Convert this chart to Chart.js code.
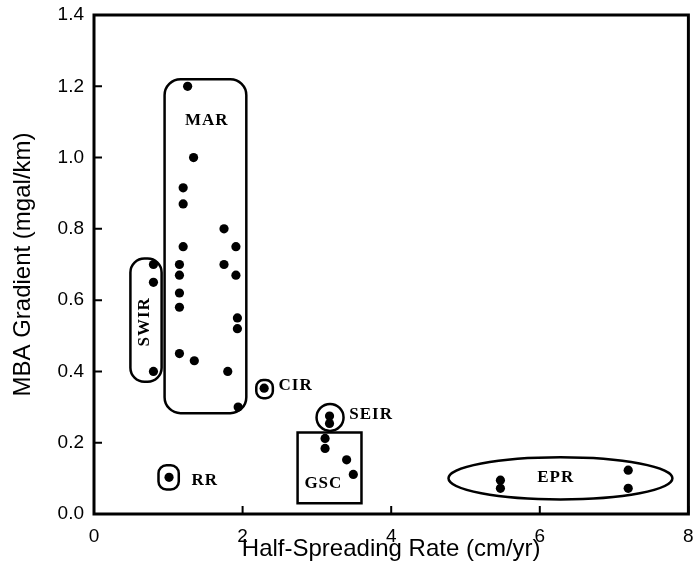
<!DOCTYPE html>
<html>
<head>
<meta charset="utf-8">
<script src="https://cdn.jsdelivr.net/npm/chart.js@4"></script>
<style>
  html, body { margin: 0; padding: 0; background: #fff; }
  canvas { display: block; }
</style>
</head>
<body>
<canvas id="chart" width="693" height="569"></canvas>
<script>
// half-spreading rate (cm/yr) and MBA gradient (mgal/km), one entry per ridge segment
const spreadRate = [
  // MAR
  1.26, 1.34, 1.20, 1.20, 1.75, 1.20, 1.91, 1.15, 1.15, 1.15, 1.15, 1.15, 1.35, 1.75, 1.91, 1.93, 1.93, 1.80, 1.94,
  // SWIR
  0.80, 0.80, 0.80,
  // CIR
  2.29,
  // SEIR
  3.17, 3.17,
  // GSC
  3.11, 3.11, 3.40, 3.49,
  // RR
  1.01,
  // EPR
  5.47, 5.47, 7.19, 7.19,
];

const mbaGradient = [
  1.20, 1.00, 0.915, 0.87, 0.80, 0.75, 0.75, 0.70, 0.67, 0.62, 0.58, 0.45, 0.43, 0.70, 0.67, 0.55, 0.52, 0.40, 0.30,
  0.70, 0.65, 0.40,
  0.353,
  0.275, 0.254,
  0.212, 0.184, 0.152, 0.111,
  0.103,
  0.095, 0.072, 0.123, 0.072,
];

const xTicks = [0, 2, 4, 6, 8];
const yTicks = [0, 0.2, 0.4, 0.6, 0.8, 1.0, 1.2, 1.4];

const xTitle = 'Half-Spreading Rate (cm/yr)';
const yTitle = 'MBA Gradient (mgal/km)';

// outlines drawn round each group, in data units (radius in px)
const groupShapes = [
  { kind: 'round', x0: 0.95, x1: 2.05, y0: 0.283, y1: 1.22, r: 16 },
  { kind: 'round', x0: 0.49, x1: 0.91, y0: 0.371, y1: 0.717, r: 14 },
  { kind: 'round', x0: 2.184, x1: 2.407, y0: 0.325, y1: 0.376, r: 7 },
  { kind: 'round', x0: 0.868, x1: 1.141, y0: 0.069, y1: 0.137, r: 8 },
  { kind: 'round', x0: 2.74, x1: 3.60, y0: 0.03, y1: 0.229, r: 0 },
  { kind: 'circle', x: 3.177, y: 0.271, r: 13.5 },
  { kind: 'ellipse', x: 6.278, y: 0.100, rx: 1.507, ry: 0.059 },
];

const groupLabels = [
  { text: 'MAR', x: 1.517, y: 1.105, align: 'center' },
  { text: 'SWIR', x: 0.685, y: 0.539, align: 'center', rotate: true },
  { text: 'CIR', x: 2.483, y: 0.359, align: 'left' },
  { text: 'SEIR', x: 3.436, y: 0.278, align: 'left' },
  { text: 'GSC', x: 3.087, y: 0.084, align: 'center' },
  { text: 'RR', x: 1.49, y: 0.095, align: 'center' },
  { text: 'EPR', x: 6.215, y: 0.101, align: 'center' },
];

const sansFont = '"Liberation Sans", Arial, sans-serif';

const notesPlugin = {
  id: 'notes',
  beforeDatasetsDraw(chart) {
    const { ctx } = chart;
    const sx = chart.scales.x;
    const sy = chart.scales.y;
    ctx.save();
    ctx.strokeStyle = '#000';
    ctx.lineWidth = 2.5;
    groupShapes.forEach((s) => {
      ctx.beginPath();
      if (s.kind === 'round') {
        const l = sx.getPixelForValue(s.x0);
        const r = sx.getPixelForValue(s.x1);
        const t = sy.getPixelForValue(s.y1);
        const b = sy.getPixelForValue(s.y0);
        ctx.roundRect(l, t, r - l, b - t, s.r);
      } else if (s.kind === 'circle') {
        ctx.arc(sx.getPixelForValue(s.x), sy.getPixelForValue(s.y), s.r, 0, Math.PI * 2);
      } else {
        const cx = sx.getPixelForValue(s.x);
        const cy = sy.getPixelForValue(s.y);
        const rx = sx.getPixelForValue(s.x + s.rx) - cx;
        const ry = cy - sy.getPixelForValue(s.y + s.ry);
        ctx.ellipse(cx, cy, rx, ry, 0, 0, Math.PI * 2);
      }
      ctx.stroke();
    });

    ctx.fillStyle = '#000';
    ctx.font = 'bold 17px "Liberation Serif", "Times New Roman", serif';
    ctx.letterSpacing = '1px';
    ctx.textBaseline = 'middle';
    groupLabels.forEach((lab) => {
      const px = sx.getPixelForValue(lab.x);
      const py = sy.getPixelForValue(lab.y);
      ctx.textAlign = lab.align;
      if (lab.rotate) {
        ctx.save();
        ctx.translate(px, py);
        ctx.rotate(-Math.PI / 2);
        ctx.fillText(lab.text, 0, 0);
        ctx.restore();
      } else {
        ctx.fillText(lab.text, px, py);
      }
    });
    ctx.restore();
  },
  afterDraw(chart) {
    const { ctx, chartArea: a } = chart;
    ctx.save();
    ctx.strokeStyle = '#000';
    ctx.lineWidth = 3;
    ctx.strokeRect(a.left, a.top, a.right - a.left, a.bottom - a.top);

    // inward tick marks
    ctx.lineWidth = 2;
    ctx.beginPath();
    chart.scales.y.ticks.forEach((t) => {
      const py = chart.scales.y.getPixelForValue(t.value);
      ctx.moveTo(a.left, py);
      ctx.lineTo(a.left + 8, py);
    });
    chart.scales.x.ticks.forEach((t) => {
      const px = chart.scales.x.getPixelForValue(t.value);
      ctx.moveTo(px, a.bottom);
      ctx.lineTo(px, a.bottom - 8);
    });
    ctx.stroke();
    ctx.restore();
  },
};

const renderChart = () => {
  const canvas = document.getElementById('chart');
  const points = spreadRate.map((x, i) => ({ x, y: mbaGradient[i] }));

  new Chart(canvas, {
    type: 'scatter',
    data: {
      datasets: [
        {
          data: points,
          backgroundColor: '#000',
          borderColor: '#000',
          pointRadius: 4.6,
          pointBorderWidth: 0,
        },
      ],
    },
    options: {
      responsive: false,
      animation: false,
      layout: { padding: { top: 15, right: 4, left: 0, bottom: 0 } },
      plugins: {
        legend: { display: false },
        tooltip: { enabled: false },
      },
      scales: {
        x: {
          type: 'linear',
          min: xTicks[0],
          max: xTicks[xTicks.length - 1],
          afterBuildTicks: (scale) => { scale.ticks = xTicks.map((v) => ({ value: v })); },
          afterFit: (scale) => {
            scale.height = 55;
            scale.paddingLeft = 0;
            scale.paddingRight = 0;
          },
          grid: { display: false, drawTicks: false },
          border: { display: false },
          ticks: {
            color: '#000',
            padding: 11,
            maxRotation: 0,
            font: { family: sansFont, size: 19 },
          },
          title: {
            display: true,
            text: xTitle,
            color: '#000',
            padding: { top: 0, bottom: 5 },
            font: { family: sansFont, size: 24 },
          },
        },
        y: {
          type: 'linear',
          min: yTicks[0],
          max: yTicks[yTicks.length - 1],
          afterBuildTicks: (scale) => { scale.ticks = yTicks.map((v) => ({ value: v })); },
          afterFit: (scale) => {
            scale.width = 94;
            scale.paddingTop = 0;
            scale.paddingBottom = 0;
          },
          grid: { display: false, drawTicks: false },
          border: { display: false },
          ticks: {
            color: '#000',
            padding: 10,
            font: { family: sansFont, size: 19 },
            callback: (v) => Number(v).toFixed(1),
          },
          title: {
            display: true,
            text: yTitle,
            color: '#000',
            padding: { top: 9, bottom: 0 },
            font: { family: sansFont, size: 24 },
          },
        },
      },
    },
    plugins: [notesPlugin],
  });
};

renderChart();
</script>
</body>
</html>
